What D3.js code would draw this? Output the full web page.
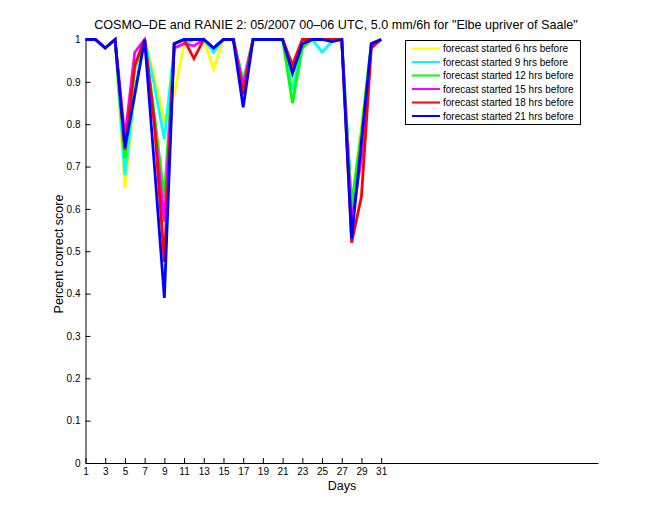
<!DOCTYPE html>
<html><head><meta charset="utf-8">
<script src="https://cdn.jsdelivr.net/npm/d3@7"></script>
<style>body{margin:0;background:#fff}svg{display:block;font-family:"Liberation Sans",Arial,Helvetica,sans-serif}</style>
</head><body><svg id="c" width="660" height="520"></svg>
<script>
const days = d3.range(1, 32);
const seriesNames = ["forecast started 6 hrs before","forecast started 9 hrs before","forecast started 12 hrs before","forecast started 15 hrs before","forecast started 18 hrs before","forecast started 21 hrs before"];
const seriesColors = ["#ffff00","#00ffff","#00ff00","#ff00ff","#ff0000","#0000ff"];
const s6  = [1,1,0.98,1,0.65,0.87,1,0.91,0.81,0.87,0.99,1,1,0.93,1,1,0.9,1,1,1,1,0.9,0.98,1,1,1,1,0.6,0.8,0.99,1];
const s9  = [1,1,0.98,1,0.68,0.88,1,0.89,0.765,0.98,0.99,1,1,0.97,1,1,0.9,1,1,1,1,0.88,0.99,1,0.97,0.995,1,0.6,0.78,0.99,1];
const s12 = [1,1,0.98,1,0.72,0.93,1,0.82,0.625,0.99,1,1,1,0.98,1,1,0.9,1,1,1,1,0.85,0.98,1,1,1,1,0.61,0.78,0.99,1];
const s15 = [1,1,0.98,1,0.77,0.97,1,0.8,0.57,0.98,0.99,0.985,1,0.98,1,1,0.89,1,1,1,1,0.93,0.99,1,1,1,1,0.57,0.72,0.99,1];
const s18 = [1,1,0.98,1,0.74,0.94,1,0.8,0.475,0.99,1,0.955,1,0.98,1,1,0.87,1,1,1,1,0.94,1,1,1,1,1,0.52,0.63,0.98,1];
const s21 = [1,1,0.98,1,0.745,0.87,1,0.7,0.39,0.99,1,1,1,0.98,1,1,0.84,1,1,1,1,0.92,0.99,1,1,0.995,1,0.53,0.76,0.99,1];
const seriesValues = [s6,s9,s12,s15,s18,s21];
const xTicks = d3.range(1, 32, 2);
const yTicks = d3.range(0, 11).map(i => i/10);
const titleText = 'COSMO\u2013DE and RANIE 2: 05/2007 00\u201306 UTC, 5.0 mm/6h for "Elbe upriver of Saale"';

const svg = d3.select("#c");
const x = d3.scaleLinear().domain([1, 53]).range([85.5, 598]);
const y = d3.scaleLinear().domain([0, 1]).range([463, 39.5]);

// axes
const xa = svg.append("g").attr("transform","translate(0,463)")
  .call(d3.axisBottom(x).tickValues(xTicks).tickFormat(d3.format("d")).tickSizeInner(-5).tickSizeOuter(0));
const ya = svg.append("g").attr("transform","translate(85.5,0)")
  .call(d3.axisLeft(y).tickValues(yTicks).tickFormat(d => d===0||d===1 ? d3.format("d")(d) : d3.format(".1f")(d)).tickSizeInner(-5).tickSizeOuter(0));
[xa, ya].forEach(g => {
  g.selectAll("path,line").attr("stroke","#000").attr("stroke-width",1);
  g.selectAll("text").attr("fill","#000").attr("font-size","10px").attr("font-family","Liberation Sans, Arial, sans-serif");
});
xa.selectAll("text").attr("dy","0.9em").attr("y",3);
ya.selectAll("text").attr("x",-5);

// lines
const line = d3.line().x((d,i) => x(days[i])).y(d => y(d));
seriesValues.forEach((vals, k) => {
  svg.append("path").datum(vals).attr("d", line)
    .attr("fill","none").attr("stroke", seriesColors[k]).attr("stroke-width",2.8)
    .attr("stroke-linejoin","miter");
});

// title and labels
svg.append("text").attr("x",336).attr("y",29).attr("text-anchor","middle").attr("font-size","12.6px").text(titleText);
svg.append("text").attr("x",342).attr("y",490).attr("text-anchor","middle").attr("font-size","12.5px").text("Days");
svg.append("text").attr("transform","translate(63,254) rotate(-90)").attr("text-anchor","middle").attr("font-size","12.5px").text("Percent correct score");

// legend
const lg = svg.append("g");
lg.append("rect").attr("x",405.5).attr("y",40.5).attr("width",175).attr("height",84).attr("fill","#fff").attr("stroke","#000").attr("stroke-width",1);
seriesNames.forEach((n,k) => {
  const yy = 48.5 + k*13.5;
  lg.append("line").attr("x1",412).attr("x2",440).attr("y1",yy).attr("y2",yy).attr("stroke",seriesColors[k]).attr("stroke-width",2);
  lg.append("text").attr("x",443).attr("y",yy+3.5).attr("font-size","10px").text(n);
});
</script></body></html>
